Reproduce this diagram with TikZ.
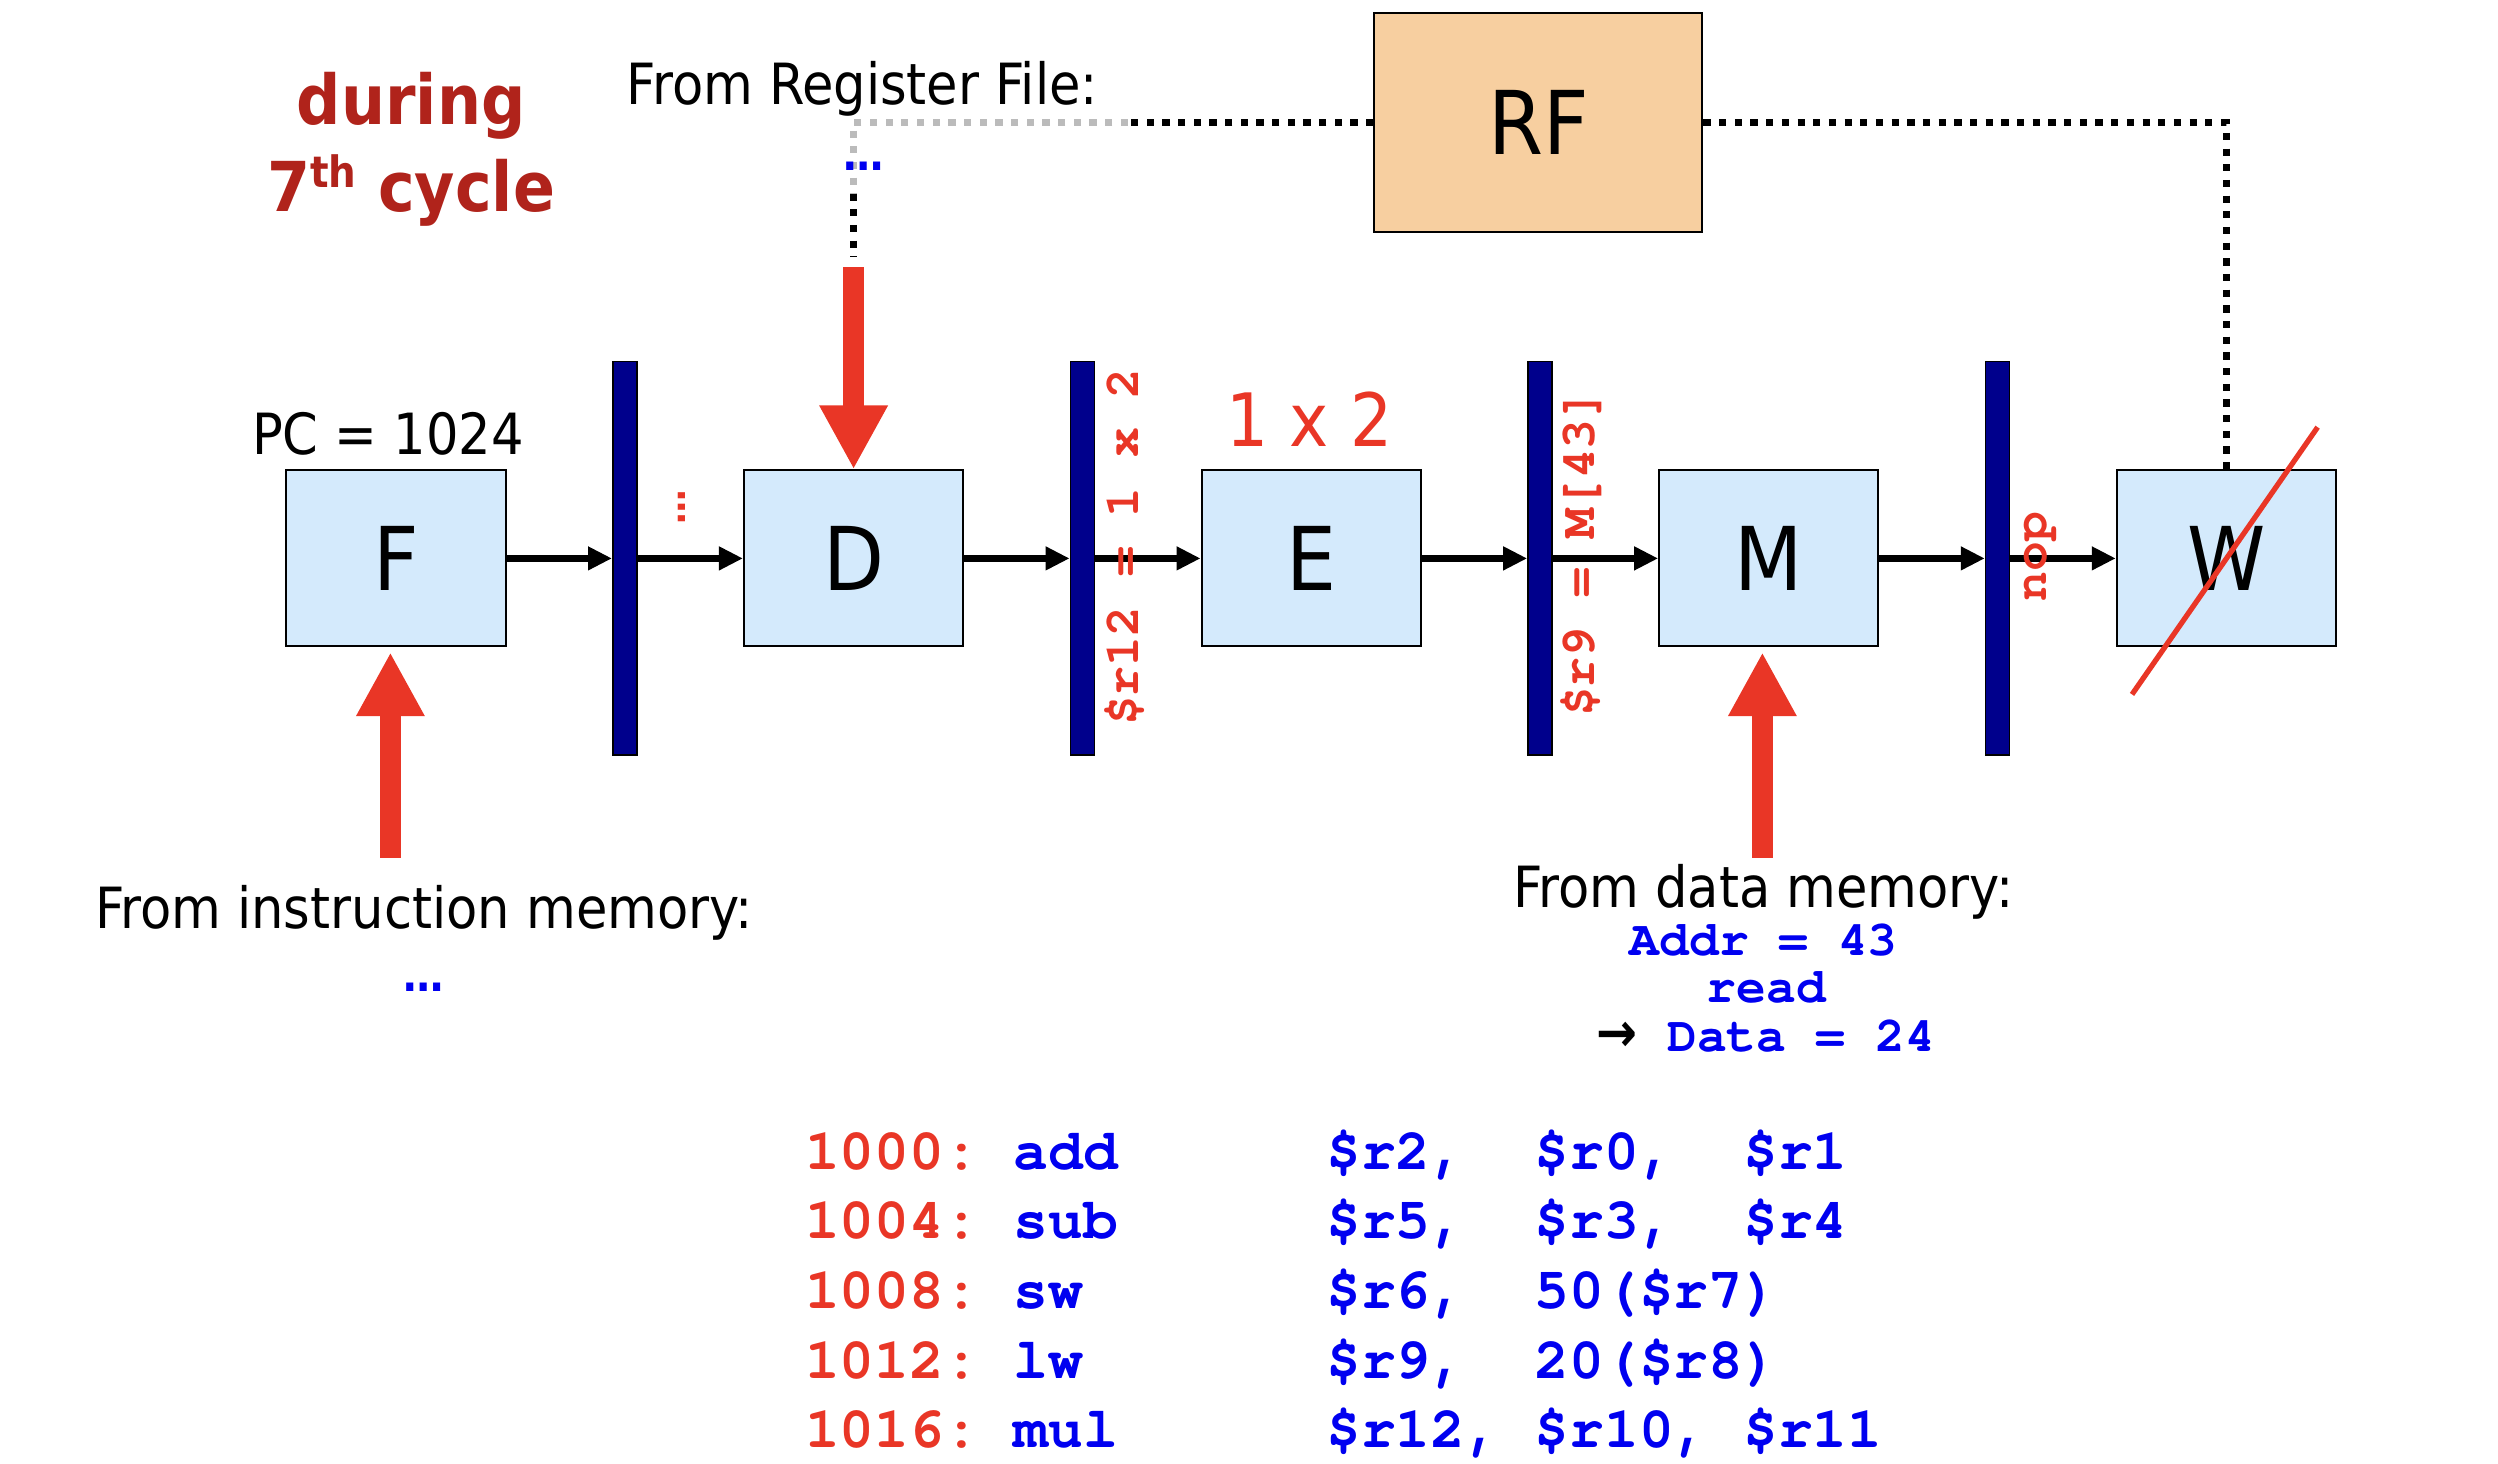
\documentclass[tikz,border=0pt]{standalone}
\usepackage{fontspec}
\setmainfont{DejaVu Sans Condensed}
\setmonofont{TeX Gyre Cursor}
\usetikzlibrary{arrows.meta}

\definecolor{stagefill}{RGB}{212,234,252}
\definecolor{latchblue}{RGB}{0,0,140}
\definecolor{rffill}{RGB}{247,207,160}
\definecolor{hotred}{RGB}{233,54,38}
\definecolor{cyclered}{RGB}{176,35,27}
\definecolor{codeblue}{RGB}{0,0,240}
\definecolor{wiregray}{RGB}{187,187,187}

\tikzset{
    stage/.style={draw=black, line width=1.3pt, fill=stagefill, minimum width=137pt,
        minimum height=110pt, inner sep=0pt, font=\fontsize{55}{60}\selectfont},
    latch/.style={draw=black, line width=1pt, fill=latchblue, minimum width=15pt,
        minimum height=246pt, inner sep=0pt},
    flow/.style={-{Triangle[length=15pt,width=14pt]}, line width=4pt},
    feed/.style={-{Triangle[length=40pt,width=40pt]}, line width=13pt, draw=hotred},
    rfwire/.style={line width=4.5pt, dash pattern=on 4.5pt off 5.3pt},
    label/.style={font=\fontsize{35.5}{42}\selectfont, inner sep=0pt, anchor=base},
    mono/.style={font=\fontsize{31}{36}\selectfont\ttfamily\bfseries, inner sep=0pt},
    code/.style={font=\fontsize{36.2}{43}\selectfont\ttfamily\bfseries, text=codeblue,
        inner sep=0pt, anchor=base west},
    dots/.style={font=\fontsize{28}{28}\selectfont\bfseries, inner sep=0pt},
}

\begin{document}
\begin{tikzpicture}[x=1pt, y=-1pt]
    \useasboundingbox (0,0) rectangle (1561.25,915);

    % Pipeline stages and latches
    \foreach \s [count=\i from 0] in {F,D,E,M,W} {
        \node[stage] (\s) at (247.5+286*\i, 349) {\s};
    }
    \foreach \i in {1,...,4} {
        \node[latch] (l\i) at (104.5+286*\i, 349) {};
    }

    % Flow between stages
    \foreach \a/\b in {F/l1, l1/D, D/l2, l2/E, E/l3, l3/M, M/l4, l4/W} {
        \draw[flow] (\a) -- (\b);
    }

    % Register file and its wires
    \node[draw=black, line width=1.3pt, fill=rffill, minimum width=205pt, minimum height=137pt,
        font=\fontsize{55}{60}\selectfont] (RF) at (961.5, 76.7) {RF};
    \coordinate (rfmid) at (705, 76.7);
    \coordinate (rfdrop) at (533.5, 121);
    \coordinate (rfend) at (533.5, 160.5);
    \coordinate (rdtop) at (533.5, 167);
    \draw[rfwire] (RF.east) -| (W.north);
    \draw[rfwire] (RF.west) -- (rfmid);
    \draw[rfwire, draw=wiregray] (rfmid) -| (rfdrop);
    \draw[rfwire] (rfdrop) -- (rfend);
    \draw[feed] (rdtop) -- (D.north);

    % Memory inputs
    \coordinate (imem) at (244, 536);
    \coordinate (dmem) at (1101.5, 536);
    \draw[feed, shorten >=3pt] (imem) -- (imem |- F.south);
    \draw[feed, shorten >=3pt] (dmem) -- (dmem |- M.south);

    % Writeback is skipped
    \draw[hotred, line width=3.3pt] ([shift={(-59,85)}]W.center) -- ([shift={(57,-82)}]W.center);

    % Titles and labels
    \node[label, text=cyclered, font=\fontsize{43}{48}\selectfont\bfseries] (during) at (257, 78) {during};
    \node[label, text=cyclered, font=\fontsize{43}{48}\selectfont\bfseries] (cycle) at (257, 132.3)
        {7\raisebox{15pt}{\fontsize{27}{27}\selectfont th} cycle};
    \node[label] (rflabel) at (539, 65.6) {From Register File:};
    \node[dots, text=codeblue] (rfdots) at (540, 104) {…};
    \node[label] (pc) at (242.5, 284) {PC = 1024};
    \node[label, text=hotred, font=\fontsize{46}{50}\selectfont] (prod) at (818.5, 279) {1 x 2};
    \node[dots, text=hotred, rotate=90, font=\fontsize{24}{24}\selectfont\bfseries] (skipd) at (426, 317) {…};
    \node[label] (imemlabel) at (265, 580) {From instruction memory:};
    \node[dots, text=codeblue] (imemdots) at (265, 617) {…};

    % Latch contents
    \node[mono, text=hotred, rotate=90] (lat2) at (703, 342) {\$r12 = 1 x 2};
    \node[mono, text=hotred, rotate=90] (lat3) at (988, 345.8) {\$r9 = M[43]};
    \node[mono, text=hotred, rotate=90] (lat4) at (1275, 348) {nop};

    % Data memory access
    \node[label] (dmemlabel) at (1102, 567.4) {From data memory:};
    \node[mono, text=codeblue, anchor=base] (addr) at (1102.3, 596.9) {Addr = 43};
    \node[mono, text=codeblue, anchor=base] (rd) at (1104, 626.7) {read};
    \node[mono, text=codeblue, anchor=base] (dout) at (1103.6, 657.3)
        {{\rmfamily\fontsize{34}{36}\selectfont\color{black}→} Data = 24};

    % Program
    \foreach \row/\addr/\instr in {
        0/1000/{add~~~~~~\$r2,~~\$r0,~~\$r1},
        1/1004/{sub~~~~~~\$r5,~~\$r3,~~\$r4},
        2/1008/{sw~~~~~~~\$r6,~~50(\$r7)},
        3/1012/{lw~~~~~~~\$r9,~~20(\$r8)},
        4/1016/{mul~~~~~~\$r12,~\$r10,~\$r11}} {
        \node[code] (prog\row) at (503, 730.8+43.5*\row) {\textcolor{hotred}{\addr:}~\instr};
    }
\end{tikzpicture}
\end{document}
